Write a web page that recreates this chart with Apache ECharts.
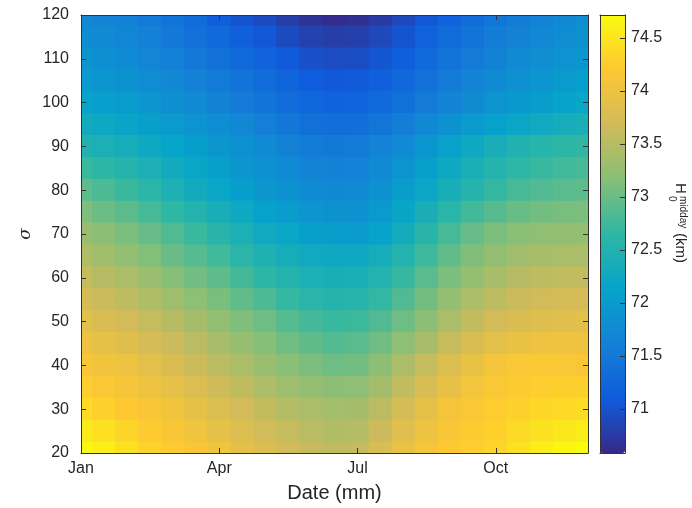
<!DOCTYPE html>
<html>
<head>
<meta charset="utf-8">
<script src="https://cdn.jsdelivr.net/npm/echarts@6/dist/echarts.min.js"></script>
<style>
  html, body { margin: 0; padding: 0; background: #fff; }
  #chart { width: 692px; height: 508px; }
</style>
</head>
<body>
<div id="chart"></div>
<script>
// month positions of the grid columns (1 = Jan ... 12 = Dec)
const monthSteps = [1, 1.5, 2, 2.5, 3, 3.5, 4, 4.5, 5, 5.5, 6, 6.5, 7, 7.5, 8, 8.5, 9, 9.5, 10, 10.5, 11, 11.5, 12]
const monthNames = ['Jan', 'Feb', 'Mar', 'Apr', 'May', 'Jun', 'Jul', 'Aug', 'Sep', 'Oct', 'Nov', 'Dec']
// sigma of each row, top row first
const sigmaRows = [120, 115, 110, 105, 100, 95, 90, 85, 80, 75, 70, 65, 60, 55, 50, 45, 40, 35, 30, 25, 20]

// H0 midday (km), one row per sigma (same order as sigmaRows)
const h0Rows = [
  [71.70, 71.65, 71.60, 71.52, 71.42, 71.32, 71.15, 71.02, 70.92, 70.78, 70.68, 70.62, 70.65, 70.75, 70.90, 71.05, 71.20, 71.32, 71.45, 71.55, 71.65, 71.72, 71.80],
  [71.80, 71.74, 71.68, 71.60, 71.50, 71.40, 71.28, 71.16, 71.06, 70.93, 70.83, 70.78, 70.80, 70.89, 71.02, 71.17, 71.32, 71.44, 71.55, 71.64, 71.72, 71.80, 71.87],
  [71.90, 71.83, 71.76, 71.68, 71.59, 71.49, 71.40, 71.30, 71.20, 71.08, 70.98, 70.94, 70.95, 71.03, 71.15, 71.29, 71.43, 71.54, 71.64, 71.73, 71.81, 71.88, 71.95],
  [71.99, 71.93, 71.87, 71.79, 71.70, 71.61, 71.52, 71.42, 71.32, 71.21, 71.12, 71.07, 71.08, 71.16, 71.27, 71.40, 71.54, 71.65, 71.75, 71.84, 71.92, 72.00, 72.06],
  [72.12, 72.06, 72.00, 71.91, 71.82, 71.73, 71.64, 71.54, 71.43, 71.33, 71.25, 71.20, 71.21, 71.28, 71.39, 71.52, 71.65, 71.77, 71.88, 71.97, 72.05, 72.12, 72.18],
  [72.30, 72.23, 72.16, 72.07, 71.98, 71.89, 71.80, 71.70, 71.59, 71.48, 71.40, 71.35, 71.36, 71.45, 71.57, 71.72, 71.86, 71.99, 72.10, 72.20, 72.28, 72.35, 72.40],
  [72.50, 72.42, 72.35, 72.25, 72.15, 72.05, 71.95, 71.85, 71.75, 71.64, 71.55, 71.50, 71.52, 71.63, 71.76, 71.93, 72.10, 72.25, 72.38, 72.48, 72.56, 72.62, 72.66],
  [72.72, 72.62, 72.54, 72.43, 72.30, 72.18, 72.07, 71.95, 71.85, 71.75, 71.65, 71.61, 71.63, 71.75, 71.90, 72.07, 72.24, 72.40, 72.53, 72.64, 72.71, 72.76, 72.80],
  [72.93, 72.82, 72.72, 72.60, 72.45, 72.30, 72.18, 72.05, 71.95, 71.85, 71.75, 71.72, 71.74, 71.86, 72.03, 72.20, 72.38, 72.55, 72.68, 72.80, 72.86, 72.90, 72.93],
  [73.12, 73.01, 72.91, 72.79, 72.65, 72.51, 72.38, 72.24, 72.11, 72.01, 71.91, 71.87, 71.87, 71.99, 72.17, 72.39, 72.59, 72.77, 72.89, 72.99, 73.05, 73.08, 73.10],
  [73.30, 73.20, 73.10, 72.98, 72.85, 72.72, 72.58, 72.42, 72.28, 72.18, 72.08, 72.03, 72.01, 72.12, 72.32, 72.58, 72.80, 72.98, 73.10, 73.18, 73.23, 73.25, 73.26],
  [73.45, 73.35, 73.26, 73.14, 73.00, 72.88, 72.76, 72.60, 72.46, 72.36, 72.28, 72.24, 72.25, 72.35, 72.51, 72.74, 72.95, 73.13, 73.25, 73.34, 73.39, 73.41, 73.42],
  [73.60, 73.50, 73.42, 73.30, 73.16, 73.04, 72.93, 72.78, 72.63, 72.52, 72.42, 72.38, 72.40, 72.52, 72.70, 72.90, 73.10, 73.27, 73.40, 73.50, 73.55, 73.57, 73.58],
  [73.74, 73.64, 73.56, 73.45, 73.33, 73.21, 73.09, 72.95, 72.83, 72.69, 72.60, 72.54, 72.56, 72.67, 72.86, 73.05, 73.26, 73.43, 73.55, 73.64, 73.69, 73.72, 73.73],
  [73.87, 73.78, 73.70, 73.60, 73.50, 73.38, 73.25, 73.12, 73.02, 72.88, 72.78, 72.71, 72.73, 72.86, 73.02, 73.20, 73.42, 73.58, 73.70, 73.78, 73.83, 73.86, 73.88],
  [74.00, 73.92, 73.85, 73.74, 73.64, 73.52, 73.39, 73.27, 73.16, 73.03, 72.94, 72.87, 72.90, 73.03, 73.22, 73.40, 73.61, 73.77, 73.89, 73.97, 74.00, 74.01, 74.01],
  [74.13, 74.06, 74.00, 73.88, 73.78, 73.65, 73.53, 73.42, 73.30, 73.18, 73.10, 73.03, 73.06, 73.20, 73.42, 73.60, 73.80, 73.95, 74.08, 74.15, 74.16, 74.15, 74.14],
  [74.25, 74.17, 74.10, 74.01, 73.92, 73.79, 73.67, 73.56, 73.44, 73.33, 73.26, 73.20, 73.22, 73.37, 73.57, 73.75, 73.94, 74.07, 74.16, 74.22, 74.25, 74.27, 74.27],
  [74.38, 74.28, 74.20, 74.13, 74.05, 73.92, 73.80, 73.70, 73.58, 73.48, 73.42, 73.36, 73.38, 73.53, 73.72, 73.90, 74.08, 74.18, 74.24, 74.29, 74.34, 74.38, 74.40],
  [74.54, 74.44, 74.33, 74.22, 74.14, 74.03, 73.92, 73.80, 73.69, 73.59, 73.52, 73.46, 73.48, 73.64, 73.84, 74.00, 74.14, 74.22, 74.28, 74.37, 74.46, 74.52, 74.56],
  [74.70, 74.60, 74.45, 74.30, 74.22, 74.13, 74.03, 73.90, 73.80, 73.70, 73.62, 73.56, 73.58, 73.75, 73.95, 74.10, 74.20, 74.25, 74.32, 74.45, 74.58, 74.67, 74.72]
]

// colour bar limits
const cbarMin = 70.585
const cbarMax = 74.717

// parula colormap
const parula = ['#352a87', '#0f5cdd', '#1481d6', '#06a4ca', '#2eb7a4', '#87bf77', '#d1bb59', '#fec832', '#f9fb0e']

const textColor = '#262626'
const lineColor = '#333333'
const fontFamily = 'Liberation Sans'

const cells = []
h0Rows.forEach((row, r) => {
  row.forEach((v, c) => cells.push([monthSteps[c], sigmaRows[r], v]))
})
const halfW = (monthSteps[1] - monthSteps[0]) / 2
const halfH = (sigmaRows[0] - sigmaRows[1]) / 2

function renderCell(params, api) {
  const x = api.value(0)
  const y = api.value(1)
  const p0 = api.coord([x - halfW, y + halfH])
  const p1 = api.coord([x + halfW, y - halfH])
  const shape = echarts.graphic.clipRectByRect(
    { x: p0[0] - 0.5, y: p0[1] - 0.5, width: p1[0] - p0[0] + 1, height: p1[1] - p0[1] + 1 },
    { x: params.coordSys.x, y: params.coordSys.y, width: params.coordSys.width, height: params.coordSys.height }
  )
  if (!shape) return null
  return { type: 'rect', shape, style: { fill: api.visual('color') } }
}

const chart = echarts.init(document.getElementById('chart'))

const frameLine = { show: true, onZero: false, lineStyle: { color: lineColor, width: 1 } }
const tickStyle = { lineStyle: { color: lineColor, width: 1 } }
const labelStyle = { color: textColor, fontSize: 16, fontFamily }

chart.setOption({
  animation: false,
  backgroundColor: '#fff',
  grid: [
    { left: 81, top: 15, width: 507, height: 438 },
    { left: 600, top: 15, width: 25, height: 438 }
  ],
  xAxis: [
    // month scale used by the cells
    { type: 'value', gridIndex: 0, min: 1, max: 12, show: false },
    // visible month axis
    {
      type: 'category', gridIndex: 0, position: 'bottom', data: monthNames, boundaryGap: false, z: 10,
      axisLine: frameLine,
      axisTick: { show: true, inside: true, interval: 2, length: 5, ...tickStyle },
      axisLabel: { interval: 2, margin: 8, ...labelStyle },
      name: 'Date (mm)', nameLocation: 'middle', nameGap: 30,
      nameTextStyle: { color: textColor, fontSize: 20, fontFamily }
    },
    {
      type: 'category', gridIndex: 0, position: 'top', data: monthNames, boundaryGap: false, z: 10,
      axisLine: frameLine,
      axisTick: { show: true, inside: true, interval: 2, length: 5, ...tickStyle },
      axisLabel: { show: false }
    },
    // colour bar frame
    {
      type: 'value', gridIndex: 1, position: 'bottom', min: 0, max: 1, z: 10,
      axisLine: frameLine, axisTick: { show: false }, axisLabel: { show: false }, splitLine: { show: false }
    },
    {
      type: 'value', gridIndex: 1, position: 'top', min: 0, max: 1, z: 10,
      axisLine: frameLine, axisTick: { show: false }, axisLabel: { show: false }, splitLine: { show: false }
    }
  ],
  yAxis: [
    {
      type: 'value', gridIndex: 0, position: 'left', min: 20, max: 120, interval: 10, z: 10,
      axisLine: frameLine,
      axisTick: { show: true, inside: true, length: 5, ...tickStyle },
      axisLabel: { margin: 12, ...labelStyle },
      splitLine: { show: false },
      name: 'σ', nameLocation: 'middle', nameGap: 47, nameRotate: 90, nameMoveOverlap: false,
      nameTextStyle: { color: textColor, fontSize: 17, fontFamily: 'DejaVu Serif', fontStyle: 'italic' }
    },
    {
      type: 'value', gridIndex: 0, position: 'right', min: 20, max: 120, interval: 10, z: 10,
      axisLine: frameLine,
      axisTick: { show: true, inside: true, length: 5, ...tickStyle },
      axisLabel: { show: false },
      splitLine: { show: false }
    },
    // colour bar scale
    {
      type: 'value', gridIndex: 1, position: 'right', min: cbarMin, max: cbarMax, splitNumber: 8, z: 10,
      axisLine: frameLine,
      axisTick: { show: true, inside: true, length: 5, ...tickStyle },
      axisLabel: { margin: 6, showMinLabel: false, showMaxLabel: false, ...labelStyle },
      splitLine: { show: false }
    },
    {
      type: 'value', gridIndex: 1, position: 'left', min: cbarMin, max: cbarMax, z: 10,
      axisLine: frameLine, axisTick: { show: false }, axisLabel: { show: false }, splitLine: { show: false }
    }
  ],
  visualMap: {
    type: 'continuous',
    seriesIndex: 0,
    dimension: 2,
    min: cbarMin,
    max: cbarMax,
    calculable: false,
    orient: 'vertical',
    left: 600,
    top: 15,
    itemWidth: 25,
    itemHeight: 438,
    padding: 0,
    inRange: { color: parula }
  },
  graphic: [
    {
      type: 'group',
      x: 680,
      y: 183,
      rotation: -Math.PI / 2,
      children: [
        { type: 'text', x: 0, y: 0, style: { text: 'H', fill: textColor, font: '15px "Liberation Sans"', verticalAlign: 'middle' } },
        { type: 'text', x: 13, y: -3, style: { text: 'midday', fill: textColor, font: '10px "Liberation Sans"', verticalAlign: 'middle' } },
        { type: 'text', x: 13, y: 8, style: { text: '0', fill: textColor, font: '10px "Liberation Sans"', verticalAlign: 'middle' } },
        { type: 'text', x: 50, y: 0, style: { text: '(km)', fill: textColor, font: '15px "Liberation Sans"', verticalAlign: 'middle' } }
      ]
    }
  ],
  series: [
    {
      type: 'custom',
      xAxisIndex: 0,
      yAxisIndex: 0,
      renderItem: renderCell,
      encode: { x: 0, y: 1 },
      data: cells,
      silent: true
    }
  ]
})
</script>
</body>
</html>
